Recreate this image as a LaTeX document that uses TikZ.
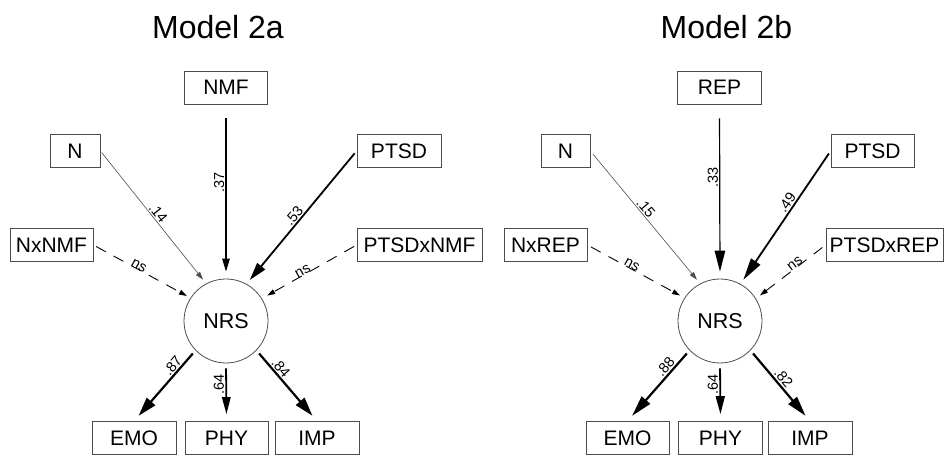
\documentclass[tikz,border=0pt]{standalone}
\usepackage{fontspec}
\setmainfont{Liberation Sans}
\usetikzlibrary{arrows.meta}
\begin{document}
\begin{tikzpicture}[x=1pt,y=1pt,
  var/.style={draw=black!70, line width=0.8pt, minimum height=33pt, inner sep=0pt,
    font=\fontsize{21}{25}\selectfont},
  lat/.style={circle, draw=black!70, line width=0.8pt, minimum size=84pt, inner sep=0pt,
    font=\fontsize{21.5}{25}\selectfont},
  ttl/.style={font=\fontsize{32}{38}\selectfont, anchor=base, inner sep=0pt},
  coef/.style={font=\fontsize{14.5}{17}\selectfont, anchor=south, inner sep=1.2pt},
  tip/.style 2 args={-{Triangle[length=#1,width=#2]}},
  pthin/.style={line width=0.6pt, draw=black!70, tip={8pt}{5pt}},
  pdash/.style={line width=0.9pt, dash pattern=on 11pt off 9pt, tip={8pt}{5pt}},
  pmid/.style={line width=1.2pt},
  pthick/.style={line width=1.8pt},
  pheavy/.style={line width=2.2pt},
]
\useasboundingbox (0,0) rectangle (946,455);

% ---------- Model 2a ----------
\node[ttl] (ta) at (218,416) {Model 2a};
\node[var, minimum width=83pt]  (anmf) at (226,367.5) {NMF};
\node[var, minimum width=50pt]  (an)   at (75,304)    {N};
\node[var, minimum width=84pt]  (aptsd) at (399,304)  {PTSD};
\node[var, minimum width=83pt]  (anx)  at (51.5,210)  {NxNMF};
\node[var, minimum width=125pt] (apx)  at (419.5,210) {PTSDxNMF};
\node[lat] (anrs) at (226,134) {NRS};
\node[var, minimum width=84pt]  (aemo) at (134,17)    {EMO};
\node[var, minimum width=83pt]  (aphy) at (226.5,17)  {PHY};
\node[var, minimum width=84pt]  (aimp) at (317,17)    {IMP};

\draw[pthin, shorten <=2pt, shorten >=5pt] (an.east) -- (anrs.118)
  node[coef, pos=0.5, rotate=-51.6] {.14};
\draw[pmid, tip={13pt}{7.5pt}, shorten <=14pt, shorten >=7pt] (anmf.south) -- (anrs.90)
  node[coef, pos=0.45, rotate=90] {.37};
\draw[pthick, tip={18pt}{10pt}, shorten <=3pt, shorten >=5pt] (aptsd.west) -- (anrs.61)
  node[coef, pos=0.52, rotate=50.1] {.53};
\draw[pdash, shorten <=3pt, shorten >=4pt] (anx.east) -- (anrs.147)
  node[coef, pos=0.45, rotate=-28.7, yshift=-2pt] {ns};
\draw[pdash, shorten <=3pt, shorten >=6pt] (apx.west) -- (anrs.32)
  node[coef, pos=0.55, rotate=29.1, yshift=-2pt] {ns};
\draw[pheavy, tip={19pt}{11pt}, shorten <=4pt, shorten >=7pt] (anrs.224) -- (aemo.north)
  node[coef, pos=0.28, rotate=49.7] {.87};
\draw[pthick, tip={17pt}{8.5pt}, shorten <=5pt, shorten >=7pt] (anrs.270) -- (aphy.north)
  node[coef, pos=0.37, rotate=90] {.64};
\draw[pheavy, tip={19pt}{11pt}, shorten <=4pt, shorten >=7pt] (anrs.316) -- (aimp.north)
  node[coef, pos=0.31, rotate=-49.3] {.84};

% ---------- Model 2b ----------
\node[ttl] (tb) at (726.5,416) {Model 2b};
\node[var, minimum width=84pt]  (brep) at (719.5,367.5) {REP};
\node[var, minimum width=49pt]  (bn)   at (565.5,304)   {N};
\node[var, minimum width=83pt]  (bptsd) at (872.5,304)  {PTSD};
\node[var, minimum width=83pt]  (bnx)  at (545.5,210)   {NxREP};
\node[var, minimum width=117pt] (bpx)  at (884.5,210)   {PTSDxREP};
\node[lat] (bnrs) at (720,134) {NRS};
\node[var, minimum width=83pt]  (bemo) at (627.5,17)    {EMO};
\node[var, minimum width=84pt]  (bphy) at (720.5,17)    {PHY};
\node[var, minimum width=84pt]  (bimp) at (810,17)      {IMP};

\draw[pthin, shorten <=4pt, shorten >=5pt] (bn.east) -- (bnrs.118)
  node[coef, pos=0.46, rotate=-50.4] {.15};
\draw[pmid, tip={21pt}{10.5pt}, shorten <=14pt, shorten >=7pt] (brep.south) -- (bnrs.90)
  node[coef, pos=0.42, rotate=90] {.33};
\draw[pthick, tip={22pt}{11pt}, shorten <=3pt, shorten >=5pt] (bptsd.west) -- (bnrs.61)
  node[coef, pos=0.42, rotate=55.6] {.49};
\draw[pdash, shorten <=4pt, shorten >=5pt] (bnx.east) -- (bnrs.147)
  node[coef, pos=0.44, rotate=-28.6, yshift=-2pt] {ns};
\draw[pdash, shorten <=4pt, shorten >=5pt] (bpx.west) -- (bnrs.32)
  node[coef, pos=0.41, rotate=37.1, yshift=-2pt] {ns};
\draw[pheavy, tip={21pt}{11pt}, shorten <=4pt, shorten >=7pt] (bnrs.224) -- (bemo.north)
  node[coef, pos=0.30, rotate=49.3] {.88};
\draw[pthick, tip={18pt}{9pt}, shorten <=5pt, shorten >=7pt] (bnrs.270) -- (bphy.north)
  node[coef, pos=0.37, rotate=90] {.64};
\draw[pheavy, tip={20pt}{11pt}, shorten <=4pt, shorten >=7pt] (bnrs.316) -- (bimp.north)
  node[coef, pos=0.46, rotate=-50.0] {.82};
\end{tikzpicture}
\end{document}
